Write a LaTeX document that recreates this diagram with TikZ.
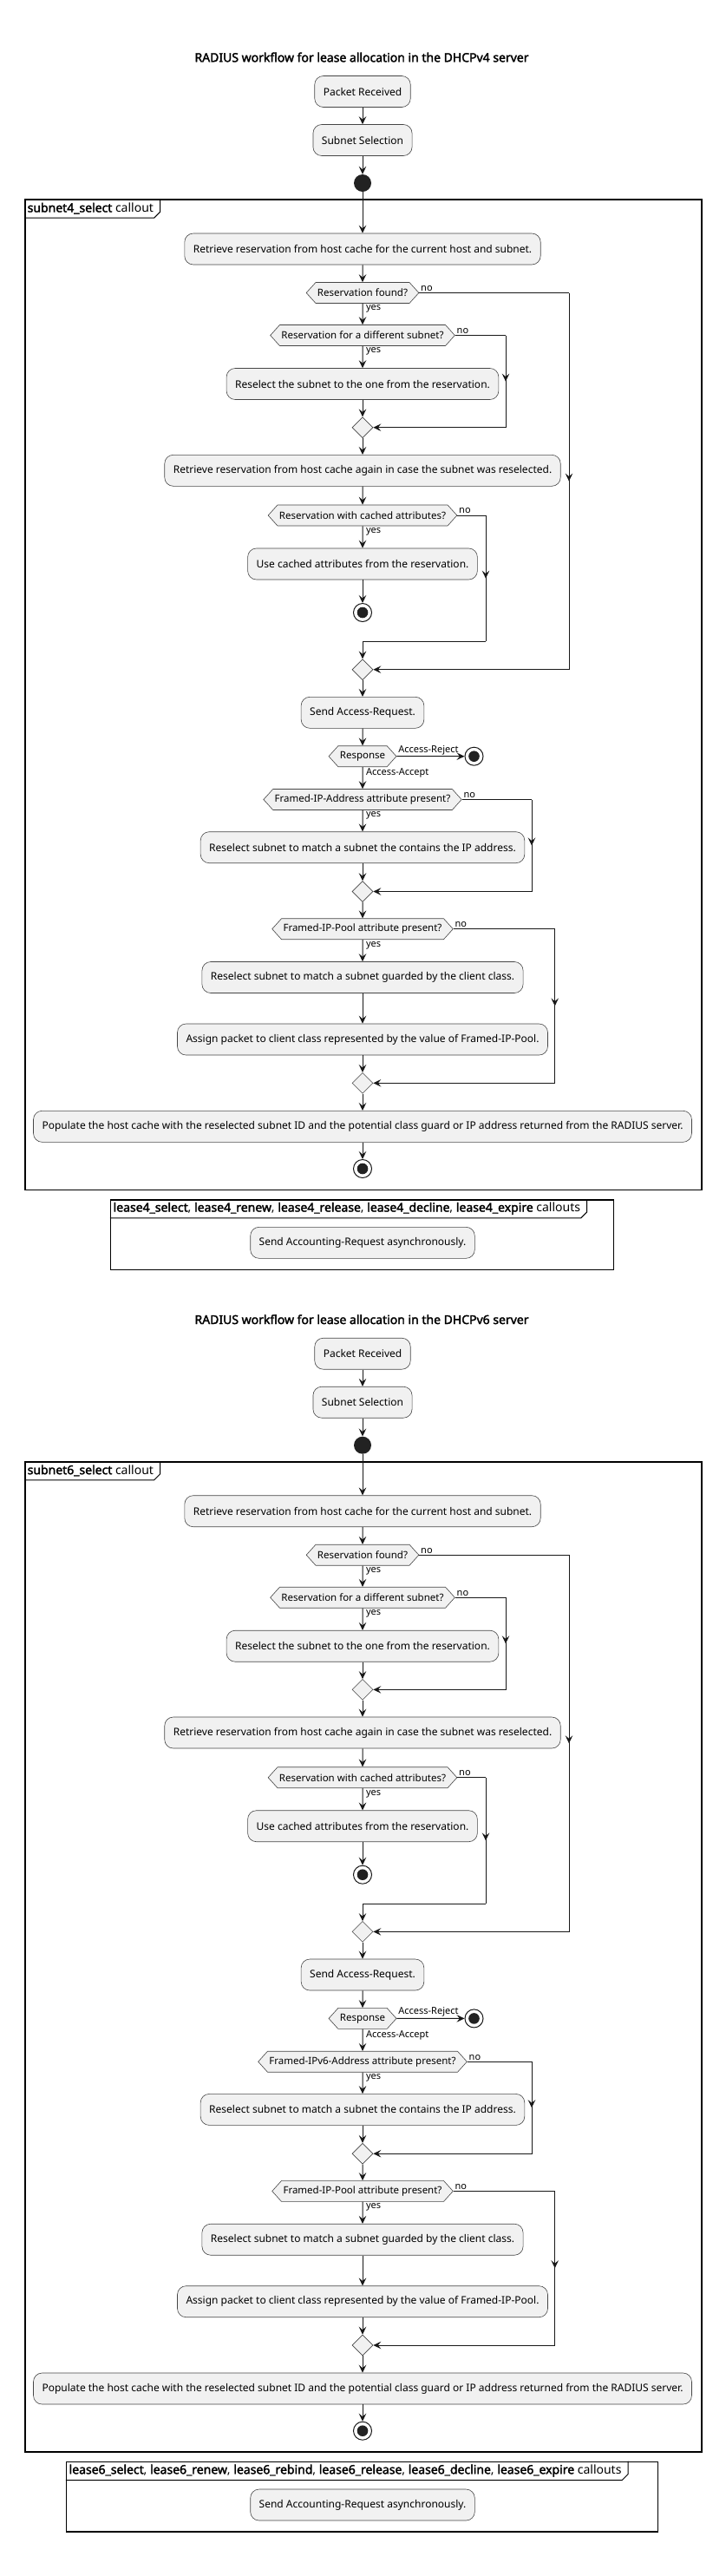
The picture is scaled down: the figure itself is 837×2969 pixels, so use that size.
\documentclass[tikz,border=0pt]{standalone}
\usepackage{fontspec}
\setmainfont{Noto Sans}[AutoFakeBold=2.2]
\usetikzlibrary{arrows.meta,shapes.geometric,shapes.symbols,decorations.markings}
\definecolor{boxfill}{HTML}{F1F1F1}
\definecolor{ink}{HTML}{181818}
\definecolor{dotfill}{HTML}{222222}
\tikzset{
  act/.style={draw=ink!80,line width=0.6pt,fill=boxfill,rounded corners=10pt,minimum height=36pt,inner xsep=10pt,font=\fontsize{12}{14}\selectfont},
  cond/.style={signal,signal to=west and east,signal pointer angle=96,draw=ink!80,line width=0.6pt,fill=boxfill,minimum height=24pt,inner xsep=2pt,inner ysep=0pt,font=\fontsize{11.5}{13}\selectfont},
  merge/.style={diamond,draw=ink!80,line width=0.6pt,fill=boxfill,minimum width=24pt,minimum height=24pt,inner sep=0pt},
  startdot/.style={circle,fill=dotfill,minimum size=20pt,inner sep=0pt},
  stopdot/.style={circle,draw=ink,line width=1pt,fill=white,minimum size=21pt,inner sep=0pt,
    path picture={\fill[dotfill] (path picture bounding box.center) circle (6.3pt);}},
  wire/.style={draw=ink,line width=1pt},
  flow/.style={wire,-{Stealth[length=9pt,width=8.5pt,inset=3.5pt]}},
  midarrow/.style={postaction={decorate},decoration={markings,mark=at position .5 with {\arrow{Stealth[length=9pt,width=8.5pt,inset=3.5pt]}}}},
  lbl/.style={font=\fontsize{11}{13}\selectfont,inner sep=1.5pt},
  grp/.style={draw=black,line width=1.5pt,inner sep=0pt,anchor=north west},
  grplabel/.style={anchor=north west,inner xsep=3.5pt,inner ysep=0pt,minimum height=21.4pt,font=\fontsize{14}{16}\selectfont},
  tabline/.style={draw=black,line width=1pt},
  heading/.style={font=\bfseries\fontsize{14}{16}\selectfont}
}

\begin{document}
\begin{tikzpicture}[x=1pt,y=-1pt]
\useasboundingbox (0,0) rectangle (837,2969);
\foreach \v/\dy/\addr/\fw/\hooks in {
  4/0/Framed-IP-Address/580/{\textbf{lease4\_select}, \textbf{lease4\_renew}, \textbf{lease4\_release}, \textbf{lease4\_decline}, \textbf{lease4\_expire} callouts},
  6/1454.7/Framed-IPv6-Address/682/{\textbf{lease6\_select}, \textbf{lease6\_renew}, \textbf{lease6\_rebind}, \textbf{lease6\_release}, \textbf{lease6\_decline}, \textbf{lease6\_expire} callouts}}{
\begin{scope}[yshift=-\dy pt]
\node[heading] (ttl\v) at (417,66) {RADIUS workflow for lease allocation in the DHCPv\v{} server};
% callout frame
\node[grp,minimum width=780pt,minimum height=1141.4pt] (fr\v) at (28,229.3) {};
\node[grplabel] (frl\v) at (fr\v.north west) {\textbf{subnet\v\_select} callout};
\draw[tabline] (frl\v.south west) -- ([xshift=-3pt]frl\v.south east) -- ([xshift=4pt,yshift=7pt]frl\v.south east) -- ([xshift=4pt]frl\v.north east);

\node[act] (pr\v) at (418,105.5) {Packet Received};
\node[act] (ss\v) at (418,161.5) {Subnet Selection};
\node[startdot] (st\v) at (418,211) {};
\node[act] (r1\v) at (418,287) {Retrieve reservation from host cache for the current host and subnet.};
\node[cond] (d1\v) at (418,337.5) {Reservation found?};
\node[cond] (d2\v) at (418,386.5) {Reservation for a different subnet?};
\node[act] (rr\v) at (418,442.5) {Reselect the subnet to the one from the reservation.};
\node[merge] (m1\v) at (418,492.7) {};
\node[act] (r2\v) at (418,542.3) {Retrieve reservation from host cache again in case the subnet was reselected.};
\node[cond] (d3\v) at (418,594) {Reservation with cached attributes?};
\node[act] (uc\v) at (418,650) {Use cached attributes from the reservation.};
\node[stopdot] (sp1\v) at (418,706) {};
\node[merge] (m2\v) at (418,771.7) {};
\node[act] (sar\v) at (418,821.3) {Send Access-Request.};
\node[cond] (resp\v) at (418,871.7) {Response};
\node[stopdot] (rej\v) at (546.5,871.7) {};
\node[cond] (d4\v) at (418,921.5) {\addr{} attribute present?};
\node[act] (rs1\v) at (418,976.7) {Reselect subnet to match a subnet the contains the IP address.};
\node[merge] (m3\v) at (418,1027.5) {};
\node[cond] (d5\v) at (418,1070.7) {Framed-IP-Pool attribute present?};
\node[act] (rs2\v) at (418,1126.5) {Reselect subnet to match a subnet guarded by the client class.};
\node[act] (asg\v) at (418,1198) {Assign packet to client class represented by the value of Framed-IP-Pool.};
\node[merge] (m4\v) at (418,1248.3) {};
\node[act] (pop\v) at (418,1298.3) {Populate the host cache with the reselected subnet ID and the potential class guard or IP address returned from the RADIUS server.};
\node[stopdot] (sp2\v) at (418,1347) {};

% corners of the "no" branches
\coordinate (k1\v) at (656,337.5);
\coordinate (k2\v) at (583,386.5);
\coordinate (k3\v) at (560,594);
\coordinate (j3\v) at (560,739.3);
\coordinate (k4\v) at (613,921.5);
\coordinate (k5\v) at (639.7,1070.7);

\draw[flow] (pr\v) -- (ss\v);
\draw[flow] (ss\v) -- (st\v);
\draw[flow] (st\v) -- (r1\v);
\draw[flow] (r1\v) -- (d1\v);
\draw[flow] (d1\v) -- node[lbl,pos=0,anchor=north west,xshift=2pt]{yes} (d2\v);
\draw[flow] (d2\v) -- node[lbl,pos=0,anchor=north west,xshift=2pt]{yes} (rr\v);
\draw[flow] (rr\v) -- (m1\v);
\draw[wire] (d2\v.east) -- node[lbl,pos=0,anchor=south west]{no} (k2\v);
\draw[flow] (k2\v) |- (m1\v);
\draw[wire,midarrow] (k2\v) -- (k2\v |- m1\v);
\draw[flow] (m1\v) -- (r2\v);
\draw[flow] (r2\v) -- (d3\v);
\draw[flow] (d3\v) -- node[lbl,pos=0,anchor=north west,xshift=2pt]{yes} (uc\v);
\draw[flow] (uc\v) -- (sp1\v);
\draw[wire] (d3\v.east) -- node[lbl,pos=0,anchor=south west]{no} (k3\v);
\draw[wire,midarrow] (k3\v) -- (j3\v);
\draw[flow] (j3\v) -| (m2\v);
\draw[wire] (d1\v.east) -- node[lbl,pos=0,anchor=south west]{no} (k1\v);
\draw[flow] (k1\v) |- (m2\v);
\draw[wire,midarrow] (k1\v) -- (k1\v |- m2\v);
\draw[flow] (m2\v) -- (sar\v);
\draw[flow] (sar\v) -- (resp\v);
\draw[flow] (resp\v) -- node[lbl,pos=0,anchor=south west]{Access-Reject} (rej\v);
\draw[flow] (resp\v) -- node[lbl,pos=0,anchor=north west,xshift=2pt]{Access-Accept} (d4\v);
\draw[flow] (d4\v) -- node[lbl,pos=0,anchor=north west,xshift=2pt]{yes} (rs1\v);
\draw[flow] (rs1\v) -- (m3\v);
\draw[wire] (d4\v.east) -- node[lbl,pos=0,anchor=south west]{no} (k4\v);
\draw[flow] (k4\v) |- (m3\v);
\draw[wire,midarrow] (k4\v) -- (k4\v |- m3\v);
\draw[flow] (m3\v) -- (d5\v);
\draw[flow] (d5\v) -- node[lbl,pos=0,anchor=north west,xshift=2pt]{yes} (rs2\v);
\draw[flow] (rs2\v) -- (asg\v);
\draw[flow] (asg\v) -- (m4\v);
\draw[wire] (d5\v.east) -- node[lbl,pos=0,anchor=south west]{no} (k5\v);
\draw[flow] (k5\v) |- (m4\v);
\draw[wire,midarrow] (k5\v) -- (k5\v |- m4\v);
\draw[flow] (m4\v) -- (pop\v);
\draw[flow] (pop\v) -- (sp2\v);

% lease callouts frame
\node[grp,anchor=north,minimum width=\fw pt,minimum height=80.7pt] (cf\v) at (417.7,1382) {};
\node[grplabel] (cfl\v) at (cf\v.north west) {\hooks};
\draw[tabline] (cfl\v.south west) -- ([xshift=-3pt]cfl\v.south east) -- ([xshift=4pt,yshift=7pt]cfl\v.south east) -- ([xshift=4pt]cfl\v.north east);
\node[act] (acc\v) at (418,1432.3) {Send Accounting-Request asynchronously.};
\end{scope}
}
\end{tikzpicture}
\end{document}
